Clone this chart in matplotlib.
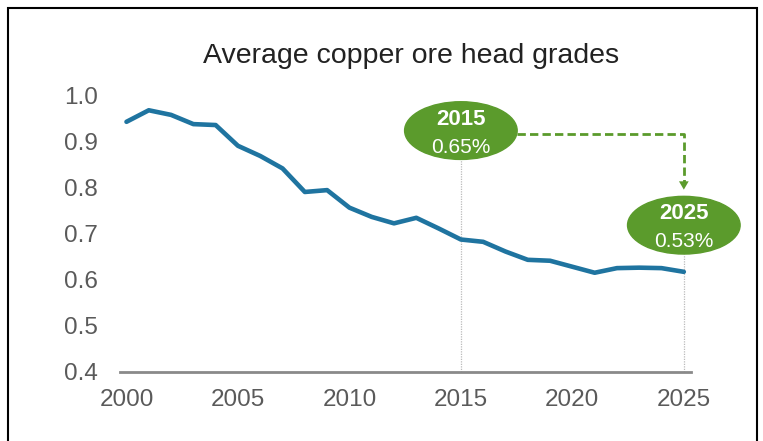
import matplotlib
matplotlib.use("Agg")
import matplotlib.pyplot as plt
from matplotlib.patches import Ellipse, Rectangle

plt.rcParams['font.family'] = ['Liberation Sans', 'DejaVu Sans']

years = list(range(2000, 2026))
grades = [0.942, 0.967, 0.957, 0.937, 0.935, 0.890, 0.868, 0.841, 0.790, 0.794,
          0.756, 0.736, 0.722, 0.734, 0.711, 0.687, 0.682, 0.661, 0.643, 0.641,
          0.628, 0.615, 0.625, 0.626, 0.625, 0.617]
xticks = [2000, 2005, 2010, 2015, 2020, 2025]
yticks = [0.4, 0.5, 0.6, 0.7, 0.8, 0.9, 1.0]
title = "Average copper ore head grades"
callouts = [("2015", "0.65%"), ("2025", "0.53%")]
callout_years = [2015, 2025]

LINE = "#1f74a0"
GREEN = "#5b9b2c"
GRAY = "#5a5a5a"

fig = plt.figure(figsize=(7.63, 4.41), dpi=100)
ax = fig.add_axes([0.157, 0.1565, 0.748, 0.628])
ax.set_xlim(1999.7, 2025.3)
ax.set_ylim(0.4, 1.0)

ax.plot(years, grades, color=LINE, lw=3.3, solid_joinstyle='round', solid_capstyle='round', zorder=3)

for s in ['top', 'right', 'left']:
    ax.spines[s].set_visible(False)
ax.spines['bottom'].set_color('#8a8a8a')
ax.spines['bottom'].set_linewidth(2.0)
ax.set_xticks(xticks)
ax.set_xticklabels([str(t) for t in xticks])
ax.set_yticks(yticks)
ax.set_yticklabels([f"{t:.1f}" for t in yticks])
ax.tick_params(axis='both', length=0, labelcolor=GRAY)
ax.tick_params(axis='x', pad=12, labelsize=17.5)
ax.tick_params(axis='y', pad=16, labelsize=17.5)

# callouts
ell_w, ell_h = 5.05, 0.125
ell_y = [0.923, 0.718]
for (yr_lbl, val_lbl), cx, cy in zip(callouts, callout_years, ell_y):
    ax.add_patch(Ellipse((cx, cy), ell_w, ell_h, color=GREEN, zorder=5, clip_on=False))
    ax.text(cx, cy + 0.025, yr_lbl, color='white', fontsize=16, fontweight='bold',
            ha='center', va='center', zorder=6, clip_on=False)
    ax.text(cx, cy - 0.036, val_lbl, color='white', fontsize=15,
            ha='center', va='center', zorder=6, clip_on=False)
    ax.plot([cx, cx], [0.4, cy - ell_h / 2], color='#bbbbbb', lw=0.9, ls=(0, (1, 1)), zorder=2)

# dashed connector arrow
ay = 0.915
x0 = callout_years[0] + ell_w / 2
x1 = callout_years[1]
ax.plot([x0, x1, x1], [ay, ay, 0.805], color=GREEN, lw=2.0, ls=(0, (3, 1.5)), zorder=4, clip_on=False)
ax.annotate('', xy=(x1, 0.789), xytext=(x1, 0.815),
            arrowprops=dict(arrowstyle='-|>,head_width=0.35,head_length=0.6', color=GREEN, lw=0),
            zorder=4)

fig.text(0.539, (441 - 63) / 441, title, ha='center', va='baseline', fontsize=20.5, color='#222222')

fig.add_artist(Rectangle((8 / 763, -0.05), 749 / 763, 1 - 8 / 441 + 0.05, transform=fig.transFigure,
                         fill=False, edgecolor='black', lw=1.5))

fig.savefig("out.png", dpi=100)
